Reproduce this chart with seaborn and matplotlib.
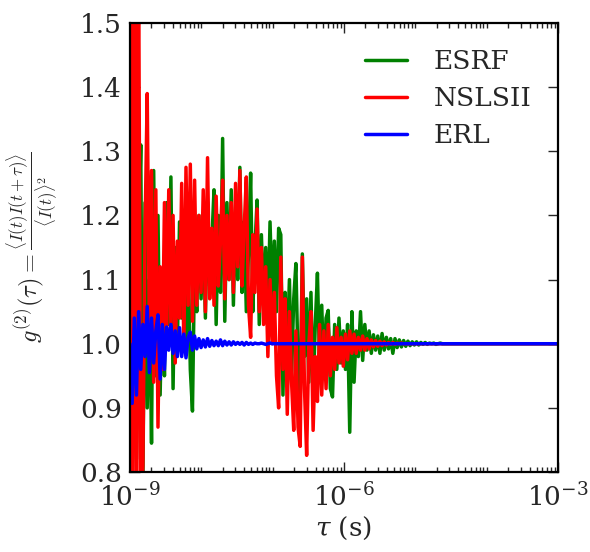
"""g2(tau) 비교 — ESRF / NSLSII / ERL, log tau 축."""
import numpy as np
import pandas as pd
import matplotlib
matplotlib.use('Agg')
import matplotlib.pyplot as plt
import matplotlib.ticker as mticker
import seaborn as sns

sns.set_style('ticks')
plt.rcParams.update({
    'font.family': ['DejaVu Serif', 'DejaVu Sans'],
    'mathtext.fontset': 'dejavuserif',
    'axes.linewidth': 1.6,
    'xtick.direction': 'in', 'ytick.direction': 'in',
    'xtick.top': True, 'ytick.right': True,
    'xtick.major.size': 7, 'ytick.major.size': 7,
    'xtick.minor.size': 3.5, 'ytick.minor.size': 3.5,
    'xtick.major.width': 1.0, 'ytick.major.width': 1.0,
    'xtick.minor.width': 1.0,
    'axes.unicode_minus': True,
})

# tau 샘플: 1e-9 .. 10^-4.5 (log 간격 150점) + 꼬리 2점
tau = np.concatenate([np.logspace(-9, -4.5, 150), [1e-4, 1e-3]])

esrf = [
    1.00, 0.88, 1.10, 0.82, 1.15, 1.31, 0.78, 1.22, 0.90, 1.10,
    0.845, 1.27, 0.95, 1.20, 0.92, 1.10, 0.95, 1.22, 1.03, 1.26,
    0.93, 1.15, 1.00, 1.19, 1.04, 1.16, 1.00, 1.14, 0.96, 0.895,
    1.13, 1.05, 1.20, 1.07, 1.18, 1.04, 1.22, 1.09, 1.16, 1.24,
    1.03, 1.20, 1.08, 1.32, 1.035, 1.22, 1.10, 1.24, 1.06, 1.20,
    1.10, 1.275, 1.08, 1.19, 1.05, 1.14, 1.266, 1.05, 1.15, 1.224,
    1.03, 1.17, 1.06, 1.15, 1.04, 1.19, 1.07, 1.16, 1.05, 1.18,
    1.17, 0.92, 1.08, 0.99, 1.10, 0.95, 1.07, 1.125, 0.97, 0.92,
    1.14, 0.98, 1.07, 0.94, 1.08, 0.917, 1.03, 1.11, 0.97, 1.06,
    0.95, 1.04, 1.052, 0.93, 0.917, 1.03, 0.96, 1.04, 0.97, 1.02,
    0.96, 1.03, 0.862, 1.05, 0.94, 1.02, 0.98, 1.05, 0.974, 1.03,
    0.99, 1.02, 0.985, 1.014, 0.99, 1.012, 0.985, 1.016, 0.99, 1.01,
    0.992, 1.008, 0.985, 1.008, 0.994, 1.006, 0.995, 1.005, 0.996, 1.004,
    0.997, 1.003, 0.998, 1.003, 0.998, 1.002, 0.999, 1.002, 0.999, 1.001,
    1.000, 1.001, 0.999, 1.000, 1.001, 1.000, 1.000, 1.000, 1.000, 1.000,
    1.000, 1.000,
]

nslsii = [
    1.95, 0.55, 1.80, 0.65, 1.62, 0.74, 0.81, 1.18, 1.39, 1.02,
    1.27, 0.94, 1.24, 0.87, 1.12, 0.96, 1.22, 1.01, 1.24, 1.03,
    1.20, 0.97, 1.16, 1.04, 1.25, 0.99, 1.275, 1.06, 1.28, 1.035,
    1.255, 1.06, 1.20, 1.08, 1.24, 1.05, 1.29, 1.07, 1.18, 1.06,
    1.23, 1.09, 1.16, 1.255, 1.07, 1.20, 1.10, 1.22, 1.08, 1.25,
    1.12, 1.27, 1.09, 1.18, 1.26, 1.06, 1.01, 1.17, 1.08, 1.21,
    1.05, 1.15, 1.03, 1.12, 0.98, 1.10, 1.00, 1.08, 0.95, 0.90,
    1.135, 0.96, 1.07, 0.89, 1.05, 0.94, 0.865, 1.02, 0.87, 0.84,
    1.135, 0.93, 0.826, 1.00, 1.05, 0.865, 0.98, 0.91, 1.03, 0.92,
    1.02, 0.93, 1.03, 0.95, 1.01, 0.96, 1.025, 0.97, 1.01, 0.965,
    1.015, 0.975, 1.02, 0.985, 1.015, 0.985, 1.01, 0.99, 1.012, 0.99,
    1.008, 0.992, 1.006, 0.995, 1.005, 0.996, 1.004, 0.997, 1.003, 0.998,
    1.002, 0.999, 1.002, 0.999, 1.001, 1.000, 1.001, 1.000, 1.000, 1.000,
    1.000, 1.000, 1.000, 1.000, 1.000, 1.000, 1.000, 1.000, 1.000, 1.000,
    1.000, 1.000, 1.000, 1.000, 1.000, 1.000, 1.000, 1.000, 1.000, 1.000,
    1.000, 1.000,
]

erl = [
    1.00, 0.907, 1.04, 0.92, 1.05, 0.96, 1.03, 0.98, 1.058, 0.955,
    1.04, 0.97, 1.02, 1.045, 0.945, 1.03, 0.96, 1.026, 0.99, 1.03,
    0.985, 1.02, 0.98, 1.025, 0.98, 1.015, 0.978, 1.01, 1.018, 0.99,
    1.012, 0.992, 1.008, 0.994, 1.006, 0.995, 1.008, 0.996, 1.005, 0.997,
    1.004, 0.997, 1.006, 0.997, 1.004, 0.998, 1.003, 0.998, 1.003, 0.999,
    1.002, 0.999, 1.002, 0.998, 1.002, 0.999, 1.001, 0.999, 1.001, 1.000,
    1.000, 1.001, 1.000, 0.999, 1.000, 1.001, 1.000, 1.000, 1.000, 1.000,
    1.000, 1.000, 1.000, 1.000, 1.000, 1.000, 1.000, 1.000, 1.000, 1.000,
    1.000, 1.000, 1.000, 1.000, 1.000, 1.000, 1.000, 1.000, 1.000, 1.000,
    1.000, 1.000, 1.000, 1.000, 1.000, 1.000, 1.000, 1.000, 1.000, 1.000,
    1.000, 1.000, 1.000, 1.000, 1.000, 1.000, 1.000, 1.000, 1.000, 1.000,
    1.000, 1.000, 1.000, 1.000, 1.000, 1.000, 1.000, 1.000, 1.000, 1.000,
    1.000, 1.000, 1.000, 1.000, 1.000, 1.000, 1.000, 1.000, 1.000, 1.000,
    1.000, 1.000, 1.000, 1.000, 1.000, 1.000, 1.000, 1.000, 1.000, 1.000,
    1.000, 1.000, 1.000, 1.000, 1.000, 1.000, 1.000, 1.000, 1.000, 1.000,
    1.000, 1.000,
]

SOURCES = ['ESRF', 'NSLSII', 'ERL']
COLORS = {'ESRF': 'green', 'NSLSII': 'red', 'ERL': 'blue'}

df = pd.concat([
    pd.DataFrame({'tau': tau, 'g2': vals, 'source': name})
    for name, vals in zip(SOURCES, [esrf, nslsii, erl])
], ignore_index=True)

fig = plt.figure(figsize=(5.9, 5.52), dpi=100)
ax = fig.add_axes([0.2203, 0.1449, 0.7255, 0.8134])

sns.lineplot(data=df, x='tau', y='g2', hue='source', hue_order=SOURCES,
             palette=COLORS, estimator=None, sort=True, lw=2.5, ax=ax)

ax.set_xscale('log')
ax.set_xlim(1e-9, 1e-3)
ax.set_ylim(0.8, 1.5)
ax.xaxis.set_major_locator(mticker.FixedLocator([1e-9, 1e-6, 1e-3]))
ax.xaxis.set_minor_locator(mticker.LogLocator(base=10, subs=np.arange(1, 10),
                                              numticks=100))
ax.xaxis.set_minor_formatter(mticker.NullFormatter())
ax.yaxis.set_major_locator(mticker.MultipleLocator(0.1))
ax.yaxis.set_major_formatter(mticker.FormatStrFormatter('%.1f'))
ax.tick_params(axis='both', which='major', labelsize=19, pad=6)
ax.tick_params(axis='x', which='major', pad=8)

ax.set_xlabel(r'$\tau$ (s)', fontsize=19, labelpad=2)
ax.set_ylabel(r'$g^{(2)}(\tau)=\frac{\langle I(t)I(t+\tau)\rangle}{\langle I(t)\rangle^2}$',
              fontsize=17.5, math_fontfamily='cm', labelpad=14)

ax.legend(loc='upper right', frameon=False, fontsize=19,
          handlelength=1.6, handletextpad=1.0, labelspacing=0.45,
          borderaxespad=0.6)

for s in ax.spines.values():
    s.set_color('black')

fig.savefig('out.png', dpi=100)
